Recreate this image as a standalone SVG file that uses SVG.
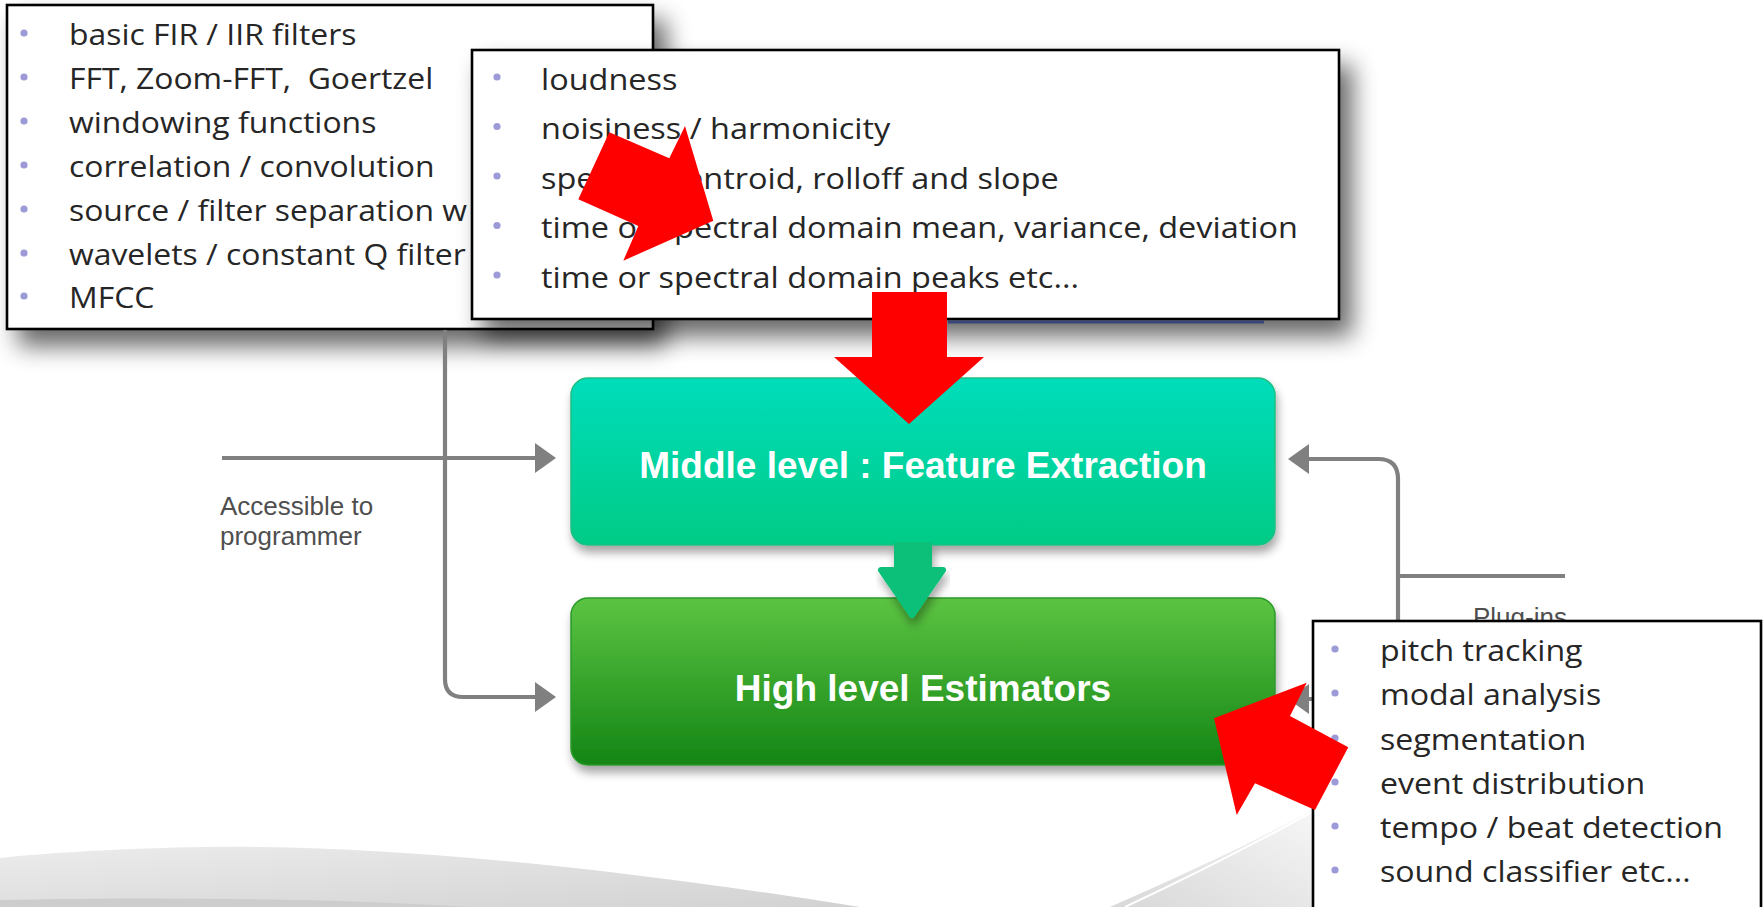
<svg xmlns="http://www.w3.org/2000/svg" width="1763" height="907" viewBox="0 0 1763 907">
<defs>
<style>
.box{fill:#ffffff;stroke:#000000;stroke-width:2.6}
.li{font-family:"Open Sans","Liberation Sans",sans-serif;fill:#262626}
.bul{fill:#9d9ad8}
.lbl{font-family:"Liberation Sans",Arial,sans-serif;fill:#4f4f4f;font-size:26px}
.gt{font-family:"Liberation Sans",Arial,sans-serif;font-weight:bold;fill:#ffffff;font-size:37px;text-anchor:middle}
.con{fill:none;stroke:#808080;stroke-width:4.2}
.ah{fill:#808080}
.red{fill:#ff0000}
</style>
<linearGradient id="gMid" x1="0" y1="0" x2="0" y2="1">
<stop offset="0" stop-color="#00ddbb"/>
<stop offset="1" stop-color="#00cb86"/>
</linearGradient>
<linearGradient id="gHigh" x1="0" y1="0" x2="0" y2="1">
<stop offset="0" stop-color="#5cc442"/>
<stop offset="1" stop-color="#138515"/>
</linearGradient>
<linearGradient id="gSw" x1="0" y1="0" x2="1" y2="1">
<stop offset="0" stop-color="#ececec"/>
<stop offset="1" stop-color="#d2d2d2"/>
</linearGradient>
<linearGradient id="gCurl" x1="0" y1="1" x2="1" y2="0">
<stop offset="0" stop-color="#d8d8d8"/>
<stop offset="1" stop-color="#f6f6f6"/>
</linearGradient>
<filter id="sh" x="-10%" y="-10%" width="130%" height="150%">
<feGaussianBlur in="SourceAlpha" stdDeviation="12"/>
<feOffset dx="12" dy="16"/>
<feComponentTransfer><feFuncA type="linear" slope="0.6"/></feComponentTransfer>
<feMerge><feMergeNode/><feMergeNode in="SourceGraphic"/></feMerge>
</filter>
<filter id="gs" x="-10%" y="-10%" width="120%" height="140%">
<feGaussianBlur in="SourceAlpha" stdDeviation="5"/>
<feOffset dx="2" dy="7"/>
<feComponentTransfer><feFuncA type="linear" slope="0.35"/></feComponentTransfer>
<feMerge><feMergeNode/><feMergeNode in="SourceGraphic"/></feMerge>
</filter>
</defs>

<rect x="0" y="0" width="1763" height="907" fill="#ffffff"/>

<g id="background">
<path d="M0,858 C80,850 180,846 260,847 C430,849 640,872 860,907 L0,907 Z" fill="url(#gSw)"/>
<path d="M0,900 C150,897 330,898 470,907 L0,907 Z" fill="#cdcdcd"/>
<path d="M1110,907 C1190,872 1262,838 1312,810 L1312,907 Z" fill="url(#gCurl)"/>
<path d="M1125,907 C1200,872 1265,838 1312,812" fill="none" stroke="#ffffff" stroke-width="2"/>
</g>

<g id="middle-level">
<rect x="571" y="378" width="704" height="167" rx="17" fill="url(#gMid)" stroke="#1fbf82" stroke-width="1.5" filter="url(#gs)"/>
<text class="gt" x="923" y="478">Middle level : Feature Extraction</text>
</g>

<g id="high-level">
<rect x="571" y="598" width="704" height="167" rx="17" fill="url(#gHigh)" stroke="#2b9a2b" stroke-width="1.5" filter="url(#gs)"/>
<text class="gt" x="923" y="701">High level Estimators</text>
</g>

<g id="flow-arrow">
<path d="M897,545 L929,545 L929,570 L943,570 L912,615 L881,570 L897,570 Z" fill="#07c07a" stroke="#07c07a" stroke-width="6" stroke-linejoin="round" filter="url(#gs)"/>
</g>

<g id="low-level-list">
<rect class="box" x="7" y="5" width="646" height="324" filter="url(#sh)"/>
<g class="bul">
<circle cx="24" cy="33" r="3.6"/><circle cx="24" cy="77" r="3.6"/><circle cx="24" cy="121" r="3.6"/><circle cx="24" cy="165" r="3.6"/><circle cx="24" cy="209" r="3.6"/><circle cx="24" cy="253" r="3.6"/><circle cx="24" cy="296" r="3.6"/>
</g>
<g class="li" font-size="29" transform="translate(69 0) scale(1.1 1)">
<text x="0" y="45">basic FIR / IIR filters</text>
<text x="0" y="89">FFT, Zoom-FFT,&#160; Goertzel</text>
<text x="0" y="133">windowing functions</text>
<text x="0" y="177">correlation / convolution</text>
<text x="0" y="221">source / filter separation w</text>
<text x="0" y="265">wavelets / constant Q filter</text>
<text x="0" y="308">MFCC</text>
</g>
</g>

<g id="feature-list">
<rect class="box" x="472" y="50" width="867" height="269" filter="url(#sh)"/>
<line x1="948" y1="322" x2="1264" y2="322" stroke="#2d3f78" stroke-width="3" opacity="0.85"/>
<g class="bul">
<circle cx="497" cy="77" r="3.6"/><circle cx="497" cy="126.5" r="3.6"/><circle cx="497" cy="176" r="3.6"/><circle cx="497" cy="225.5" r="3.6"/><circle cx="497" cy="275" r="3.6"/>
</g>
<g class="li" font-size="29.5" transform="translate(541 0) scale(1.1 1)">
<text x="0" y="90">loudness</text>
<text x="0" y="139.5">noisiness / harmonicity</text>
<text x="0" y="189">spectral centroid, rolloff and slope</text>
<text x="0" y="238.5">time or spectral domain mean, variance, deviation</text>
<text x="0" y="288">time or spectral domain peaks etc...</text>
</g>
</g>

<g id="connectors">
<path class="con" d="M222,458 H537"/>
<polygon class="ah" points="535,443 556,458 535,473"/>
<path class="con" d="M445,330 V679 Q445,697 463,697 H537"/>
<polygon class="ah" points="535,682 556,697 535,712"/>
<path class="con" d="M1306,459 H1378 Q1398,459 1398,479 V679 Q1398,699 1378,699 H1306"/>
<path class="con" d="M1398,576 H1565"/>
<polygon class="ah" points="1309,444 1288,459 1309,474"/>
<polygon class="ah" points="1309,684 1288,699 1309,714"/>
</g>

<g id="labels">
<text class="lbl" x="220" y="515">Accessible to</text>
<text class="lbl" x="220" y="545">programmer</text>
<text class="lbl" x="1473" y="626">Plug-ins</text>
</g>

<g id="estimator-list">
<rect class="box" x="1313" y="621" width="448" height="300"/>
<g class="bul">
<circle cx="1335" cy="649" r="3.6"/><circle cx="1335" cy="693" r="3.6"/><circle cx="1335" cy="738" r="3.6"/><circle cx="1335" cy="782" r="3.6"/><circle cx="1335" cy="826" r="3.6"/><circle cx="1335" cy="870" r="3.6"/>
</g>
<g class="li" font-size="29.2" transform="translate(1380 0) scale(1.1 1)">
<text x="0" y="661">pitch tracking</text>
<text x="0" y="705">modal analysis</text>
<text x="0" y="750">segmentation</text>
<text x="0" y="794">event distribution</text>
<text x="0" y="838">tempo / beat detection</text>
<text x="0" y="882">sound classifier etc...</text>
</g>
</g>

<g id="highlight-arrows">
<polygon class="red" points="609.3,132.3 669.3,158.3 685,126 713.3,220.7 623.3,260.7 638.3,226 578.3,199.3"/>
<polygon class="red" points="872,292 947,292 947,357 984,357 909,424 834,357 872,357"/>
<polygon class="red" points="1214,718.3 1306.7,682.7 1290,716 1348.3,747.3 1315,810 1255,783.3 1236.7,815"/>
</g>
</svg>
